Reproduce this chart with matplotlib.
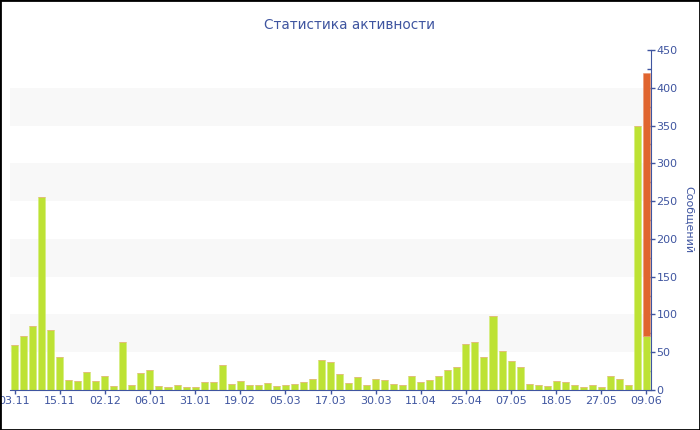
import matplotlib.pyplot as plt
import numpy as np

# messages per period (green), last period also has an extra part (orange)
green = [60, 72, 85, 255, 80, 44, 13, 12, 24, 12,
         18, 5, 63, 6, 22, 26, 5, 4, 7, 4,
         4, 11, 11, 33, 8, 12, 6, 7, 9, 5,
         6, 8, 11, 14, 40, 37, 21, 9, 17, 7,
         14, 13, 8, 7, 19, 10, 13, 18, 26, 30,
         61, 63, 44, 98, 52, 38, 30, 8, 7, 5,
         12, 10, 7, 4, 7, 4, 18, 14, 7, 350,
         72]
orange = [0] * 70 + [348]

tick_labels = ["03.11", "15.11", "02.12", "06.01", "31.01", "19.02", "05.03", "17.03",
               "30.03", "11.04", "25.04", "07.05", "18.05", "27.05", "09.06"]
tick_step = 5

txt = "#3f55a0"
x = np.arange(len(green))

fig = plt.figure(figsize=(7, 4.3), dpi=100)
ax = fig.add_axes([10 / 700, 40 / 430, 641 / 700, 340 / 430])

# striped background
for lo in (50, 150, 250, 350):
    ax.axhspan(lo, lo + 50, color="#f8f8f8", zorder=0, lw=0)

ax.bar(x, green, width=0.78, color="#bde234", edgecolor="#d4ee7a", linewidth=0.4, zorder=2)
ax.bar(x, orange, bottom=green, width=0.78, color="#e0652f", edgecolor="#ec9670", linewidth=0.4, zorder=2)

ax.set_xlim(-0.5, len(green) - 0.5)
ax.set_ylim(0, 450)

ax.yaxis.tick_right()
ax.yaxis.set_label_position("right")
ax.set_yticks(np.arange(0, 451, 50))
ax.set_yticks(np.arange(25, 450, 50), minor=True)
ax.tick_params(axis="y", which="major", direction="inout", length=6, width=1, color=txt,
               labelcolor=txt, labelsize=8, pad=1)
ax.tick_params(axis="y", which="minor", direction="in", length=3, width=1, color=txt)
ax.set_ylabel("Сообщений", color=txt, fontsize=8, rotation=-90, labelpad=12)

ax.set_xticks(x[::tick_step])
ax.set_xticklabels(tick_labels)
ax.tick_params(axis="x", direction="out", length=3, width=1, color=txt,
               labelcolor=txt, labelsize=8, pad=1)

for s in ("top", "left"):
    ax.spines[s].set_visible(False)
ax.spines["bottom"].set_color(txt)
ax.spines["right"].set_color(txt)

fig.text(350 / 700, 1 - 25 / 430, "Статистика активности", color=txt, fontsize=9.8,
         ha="center", va="center")

# thin black frame around the whole picture
fig.patches.append(plt.Rectangle((0, 0), 1, 1, transform=fig.transFigure,
                                 fill=False, edgecolor="black", linewidth=2))

fig.savefig("out.png", dpi=100)
